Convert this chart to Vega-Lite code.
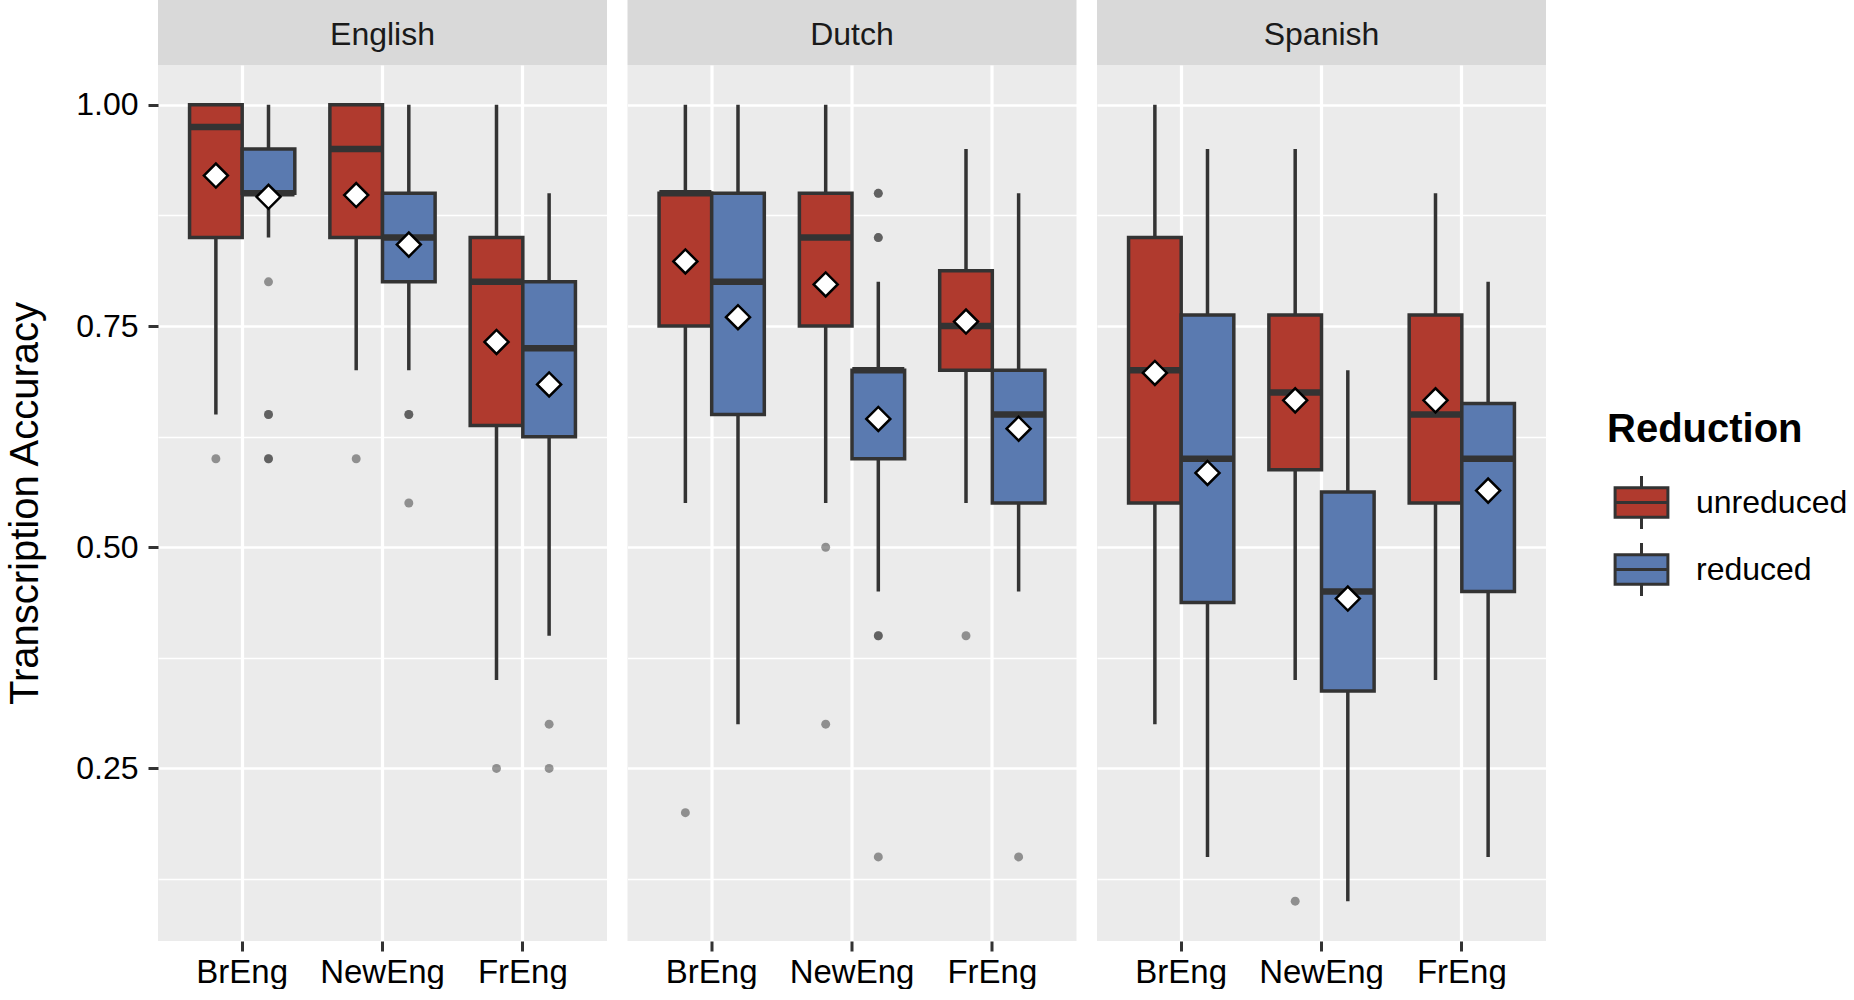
{
  "$schema": "https://vega.github.io/schema/vega-lite/v6.json",
  "padding": {"left": 5, "top": 0, "right": 0, "bottom": 0},
  "config": {
    "font": "Liberation Sans",
    "view": {"stroke": null},
    "axis": {"labelFont": "Liberation Sans", "titleFont": "Liberation Sans", "domain": false, "gridColor": "white", "tickColor": "#333333"}
  },
  "datasets": {
    "boxes": [
      {"lang": "English", "dialect": "BrEng", "red": "unreduced", "lower": 0.65, "q1": 0.85, "median": 0.975, "q3": 1.0, "upper": 1.0, "mean": 0.92},
      {"lang": "English", "dialect": "BrEng", "red": "reduced", "lower": 0.85, "q1": 0.9, "median": 0.9, "q3": 0.95, "upper": 1.0, "mean": 0.896},
      {"lang": "English", "dialect": "NewEng", "red": "unreduced", "lower": 0.7, "q1": 0.85, "median": 0.95, "q3": 1.0, "upper": 1.0, "mean": 0.898},
      {"lang": "English", "dialect": "NewEng", "red": "reduced", "lower": 0.7, "q1": 0.8, "median": 0.85, "q3": 0.9, "upper": 1.0, "mean": 0.842},
      {"lang": "English", "dialect": "FrEng", "red": "unreduced", "lower": 0.35, "q1": 0.6375, "median": 0.8, "q3": 0.85, "upper": 1.0, "mean": 0.732},
      {"lang": "English", "dialect": "FrEng", "red": "reduced", "lower": 0.4, "q1": 0.625, "median": 0.725, "q3": 0.8, "upper": 0.9, "mean": 0.684},
      {"lang": "Dutch", "dialect": "BrEng", "red": "unreduced", "lower": 0.55, "q1": 0.75, "median": 0.9, "q3": 0.9, "upper": 1.0, "mean": 0.823},
      {"lang": "Dutch", "dialect": "BrEng", "red": "reduced", "lower": 0.3, "q1": 0.65, "median": 0.8, "q3": 0.9, "upper": 1.0, "mean": 0.76},
      {"lang": "Dutch", "dialect": "NewEng", "red": "unreduced", "lower": 0.55, "q1": 0.75, "median": 0.85, "q3": 0.9, "upper": 1.0, "mean": 0.797},
      {"lang": "Dutch", "dialect": "NewEng", "red": "reduced", "lower": 0.45, "q1": 0.6, "median": 0.7, "q3": 0.7, "upper": 0.8, "mean": 0.645},
      {"lang": "Dutch", "dialect": "FrEng", "red": "unreduced", "lower": 0.55, "q1": 0.7, "median": 0.75, "q3": 0.8125, "upper": 0.95, "mean": 0.755},
      {"lang": "Dutch", "dialect": "FrEng", "red": "reduced", "lower": 0.45, "q1": 0.55, "median": 0.65, "q3": 0.7, "upper": 0.9, "mean": 0.634},
      {"lang": "Spanish", "dialect": "BrEng", "red": "unreduced", "lower": 0.3, "q1": 0.55, "median": 0.7, "q3": 0.85, "upper": 1.0, "mean": 0.697},
      {"lang": "Spanish", "dialect": "BrEng", "red": "reduced", "lower": 0.15, "q1": 0.4375, "median": 0.6, "q3": 0.7625, "upper": 0.95, "mean": 0.584},
      {"lang": "Spanish", "dialect": "NewEng", "red": "unreduced", "lower": 0.35, "q1": 0.5875, "median": 0.675, "q3": 0.7625, "upper": 0.95, "mean": 0.666},
      {"lang": "Spanish", "dialect": "NewEng", "red": "reduced", "lower": 0.1, "q1": 0.3375, "median": 0.45, "q3": 0.5625, "upper": 0.7, "mean": 0.442},
      {"lang": "Spanish", "dialect": "FrEng", "red": "unreduced", "lower": 0.35, "q1": 0.55, "median": 0.65, "q3": 0.7625, "upper": 0.9, "mean": 0.666},
      {"lang": "Spanish", "dialect": "FrEng", "red": "reduced", "lower": 0.15, "q1": 0.45, "median": 0.6, "q3": 0.6625, "upper": 0.8, "mean": 0.564}
    ],
    "outliers": [
      {"lang": "English", "dialect": "BrEng", "red": "unreduced", "value": 0.6},
      {"lang": "English", "dialect": "BrEng", "red": "reduced", "value": 0.8},
      {"lang": "English", "dialect": "BrEng", "red": "reduced", "value": 0.65},
      {"lang": "English", "dialect": "BrEng", "red": "reduced", "value": 0.65},
      {"lang": "English", "dialect": "BrEng", "red": "reduced", "value": 0.6},
      {"lang": "English", "dialect": "BrEng", "red": "reduced", "value": 0.6},
      {"lang": "English", "dialect": "NewEng", "red": "unreduced", "value": 0.6},
      {"lang": "English", "dialect": "NewEng", "red": "reduced", "value": 0.65},
      {"lang": "English", "dialect": "NewEng", "red": "reduced", "value": 0.65},
      {"lang": "English", "dialect": "NewEng", "red": "reduced", "value": 0.55},
      {"lang": "English", "dialect": "FrEng", "red": "unreduced", "value": 0.25},
      {"lang": "English", "dialect": "FrEng", "red": "reduced", "value": 0.3},
      {"lang": "English", "dialect": "FrEng", "red": "reduced", "value": 0.25},
      {"lang": "Dutch", "dialect": "BrEng", "red": "unreduced", "value": 0.2},
      {"lang": "Dutch", "dialect": "NewEng", "red": "unreduced", "value": 0.5},
      {"lang": "Dutch", "dialect": "NewEng", "red": "unreduced", "value": 0.3},
      {"lang": "Dutch", "dialect": "NewEng", "red": "reduced", "value": 0.9},
      {"lang": "Dutch", "dialect": "NewEng", "red": "reduced", "value": 0.9},
      {"lang": "Dutch", "dialect": "NewEng", "red": "reduced", "value": 0.85},
      {"lang": "Dutch", "dialect": "NewEng", "red": "reduced", "value": 0.85},
      {"lang": "Dutch", "dialect": "NewEng", "red": "reduced", "value": 0.4},
      {"lang": "Dutch", "dialect": "NewEng", "red": "reduced", "value": 0.4},
      {"lang": "Dutch", "dialect": "NewEng", "red": "reduced", "value": 0.15},
      {"lang": "Dutch", "dialect": "FrEng", "red": "unreduced", "value": 0.4},
      {"lang": "Dutch", "dialect": "FrEng", "red": "reduced", "value": 0.15},
      {"lang": "Spanish", "dialect": "NewEng", "red": "unreduced", "value": 0.1}
    ]
  },
  "resolve": {"scale": {"xOffset": "independent"}},
  "spacing": 20.5,
  "hconcat": [
    {
      "spacing": 0,
      "resolve": {"scale": {"xOffset": "independent"}},
      "vconcat": [
        {
          "width": 449, "height": 65,
          "view": {"fill": "#D9D9D9", "stroke": null},
          "data": {"values": [{"lang": "English"}]},
          "mark": {"type": "text", "fontSize": 32, "color": "#1A1A1A", "dy": 2},
          "encoding": {"text": {"field": "lang", "type": "nominal"}}
        },
        {
          "width": 449, "height": 876,
          "view": {"fill": "#EBEBEB", "stroke": null},
          "encoding": {
            "x": {"field": "dialect", "type": "nominal", "scale": {"domain": ["BrEng", "NewEng", "FrEng"], "paddingInner": 0, "paddingOuter": 0.1},
              "axis": {"title": null, "labelAngle": 0, "labelFontSize": 33, "labelColor": "black", "tickColor": "#333333", "tickWidth": 3, "tickSize": 10, "labelPadding": 5, "grid": true, "gridColor": "white", "gridWidth": 3.2, "domain": false, "bandPosition": 0.5}},
            "xOffset": {"field": "red", "type": "nominal", "scale": {"domain": ["unreduced", "reduced"], "paddingInner": 0, "paddingOuter": 0.3333}}
          },
          "layer": [
            {
              "data": {"name": "boxes"},
              "transform": [{"filter": "datum.lang === 'English'"}],
              "mark": {"type": "rule", "color": "#333333", "strokeWidth": 3.5},
              "encoding": {
                "y": {"field": "lower", "type": "quantitative", "scale": {"domain": [0.055, 1.045], "nice": false, "zero": false},
                  "axis": {"title": "Transcription Accuracy", "titleFontSize": 40, "titleFontWeight": "normal", "titleColor": "black", "titlePadding": 30,
                    "values": [0.125, 0.25, 0.375, 0.5, 0.625, 0.75, 0.875, 1.0],
                    "labelExpr": "round(datum.value*8) % 2 === 0 ? format(datum.value, '.2f') : ''",
                    "labelFontSize": 32, "labelColor": "black", "labelPadding": 10, "tickSize": 10, "tickWidth": 3, "tickColor": "#333333",
                    "tickOpacity": {"condition": {"test": "round(datum.value*8) % 2 === 0", "value": 1}, "value": 0},
                    "grid": true, "gridColor": "white",
                    "gridWidth": {"condition": {"test": "round(datum.value*8) % 2 === 0", "value": 2.6}, "value": 1.3},
                    "domain": false}},
                "y2": {"field": "upper"}
              }
            },
            {
              "data": {"name": "boxes"},
              "transform": [{"filter": "datum.lang === 'English'"}],
              "mark": {"type": "bar", "stroke": "#333333", "strokeWidth": 3.5},
              "encoding": {
                "y": {"field": "q1", "type": "quantitative", "scale": {"domain": [0.055, 1.045], "nice": false, "zero": false}},
                "y2": {"field": "q3"},
                "fill": {"field": "red", "type": "nominal", "scale": {"domain": ["unreduced", "reduced"], "range": ["#B03A2E", "#5A7AB0"]},
                  "legend": {"title": "Reduction", "orient": "none", "legendX": 1449, "legendY": 410, "titleFontSize": 40, "titleFontWeight": "bold", "titleColor": "black", "titleFont": "Liberation Sans", "titlePadding": 18, "titleLimit": 600,
                    "labelFontSize": 32, "labelColor": "black", "labelFont": "Liberation Sans", "labelOffset": 20, "labelLimit": 400,
                    "symbolType": "M-0.8,-0.45L0.8,-0.45L0.8,0.45L-0.8,0.45Z M-0.8,0L0.8,0 M0,-0.45L0,-0.8 M0,0.45L0,0.8",
                    "symbolSize": 4356, "symbolStrokeColor": "#333333", "symbolStrokeWidth": 3, "symbolOpacity": 1, "rowPadding": 0}}
              }
            },
            {
              "data": {"name": "boxes"},
              "transform": [{"filter": "datum.lang === 'English'"}],
              "mark": {"type": "tick", "color": "#333333", "thickness": 6.5, "size": 52, "opacity": 1},
              "encoding": {"y": {"field": "median", "type": "quantitative", "scale": {"domain": [0.055, 1.045], "nice": false, "zero": false}}}
            },
            {
              "data": {"name": "outliers"},
              "transform": [{"filter": "datum.lang === 'English'"}],
              "mark": {"type": "point", "shape": "circle", "filled": true, "color": "#333333", "opacity": 0.5, "size": 80},
              "encoding": {"y": {"field": "value", "type": "quantitative", "scale": {"domain": [0.055, 1.045], "nice": false, "zero": false}}}
            },
            {
              "data": {"name": "boxes"},
              "transform": [{"filter": "datum.lang === 'English'"}],
              "mark": {"type": "point", "shape": "M-1,0L0,-1L1,0L0,1Z", "filled": true, "fill": "white", "stroke": "black", "strokeWidth": 2.5, "opacity": 1, "size": 576},
              "encoding": {"y": {"field": "mean", "type": "quantitative", "scale": {"domain": [0.055, 1.045], "nice": false, "zero": false}}}
            }
          ]
        }
      ]
    },
    {
      "spacing": 0,
      "resolve": {"scale": {"xOffset": "independent"}},
      "vconcat": [
        {
          "width": 449, "height": 65,
          "view": {"fill": "#D9D9D9", "stroke": null},
          "data": {"values": [{"lang": "Dutch"}]},
          "mark": {"type": "text", "fontSize": 32, "color": "#1A1A1A", "dy": 2},
          "encoding": {"text": {"field": "lang", "type": "nominal"}}
        },
        {
          "width": 449, "height": 876,
          "view": {"fill": "#EBEBEB", "stroke": null},
          "encoding": {
            "x": {"field": "dialect", "type": "nominal", "scale": {"domain": ["BrEng", "NewEng", "FrEng"], "paddingInner": 0, "paddingOuter": 0.1},
              "axis": {"title": null, "labelAngle": 0, "labelFontSize": 33, "labelColor": "black", "tickColor": "#333333", "tickWidth": 3, "tickSize": 10, "labelPadding": 5, "grid": true, "gridColor": "white", "gridWidth": 3.2, "domain": false, "bandPosition": 0.5}},
            "xOffset": {"field": "red", "type": "nominal", "scale": {"domain": ["unreduced", "reduced"], "paddingInner": 0, "paddingOuter": 0.3333}}
          },
          "layer": [
            {
              "data": {"name": "boxes"},
              "transform": [{"filter": "datum.lang === 'Dutch'"}],
              "mark": {"type": "rule", "color": "#333333", "strokeWidth": 3.5},
              "encoding": {
                "y": {"field": "lower", "type": "quantitative", "scale": {"domain": [0.055, 1.045], "nice": false, "zero": false},
                  "axis": {"title": null, "labels": false, "ticks": false, "domain": false,
                    "values": [0.125, 0.25, 0.375, 0.5, 0.625, 0.75, 0.875, 1.0],
                    "grid": true, "gridColor": "white",
                    "gridWidth": {"condition": {"test": "round(datum.value*8) % 2 === 0", "value": 2.6}, "value": 1.3}}},
                "y2": {"field": "upper"}
              }
            },
            {
              "data": {"name": "boxes"},
              "transform": [{"filter": "datum.lang === 'Dutch'"}],
              "mark": {"type": "bar", "stroke": "#333333", "strokeWidth": 3.5},
              "encoding": {
                "y": {"field": "q1", "type": "quantitative", "scale": {"domain": [0.055, 1.045], "nice": false, "zero": false}},
                "y2": {"field": "q3"},
                "fill": {"field": "red", "type": "nominal", "scale": {"domain": ["unreduced", "reduced"], "range": ["#B03A2E", "#5A7AB0"]}}
              }
            },
            {
              "data": {"name": "boxes"},
              "transform": [{"filter": "datum.lang === 'Dutch'"}],
              "mark": {"type": "tick", "color": "#333333", "thickness": 6.5, "size": 52, "opacity": 1},
              "encoding": {"y": {"field": "median", "type": "quantitative", "scale": {"domain": [0.055, 1.045], "nice": false, "zero": false}}}
            },
            {
              "data": {"name": "outliers"},
              "transform": [{"filter": "datum.lang === 'Dutch'"}],
              "mark": {"type": "point", "shape": "circle", "filled": true, "color": "#333333", "opacity": 0.5, "size": 80},
              "encoding": {"y": {"field": "value", "type": "quantitative", "scale": {"domain": [0.055, 1.045], "nice": false, "zero": false}}}
            },
            {
              "data": {"name": "boxes"},
              "transform": [{"filter": "datum.lang === 'Dutch'"}],
              "mark": {"type": "point", "shape": "M-1,0L0,-1L1,0L0,1Z", "filled": true, "fill": "white", "stroke": "black", "strokeWidth": 2.5, "opacity": 1, "size": 576},
              "encoding": {"y": {"field": "mean", "type": "quantitative", "scale": {"domain": [0.055, 1.045], "nice": false, "zero": false}}}
            }
          ]
        }
      ]
    },
    {
      "spacing": 0,
      "resolve": {"scale": {"xOffset": "independent"}},
      "vconcat": [
        {
          "width": 449, "height": 65,
          "view": {"fill": "#D9D9D9", "stroke": null},
          "data": {"values": [{"lang": "Spanish"}]},
          "mark": {"type": "text", "fontSize": 32, "color": "#1A1A1A", "dy": 2},
          "encoding": {"text": {"field": "lang", "type": "nominal"}}
        },
        {
          "width": 449, "height": 876,
          "view": {"fill": "#EBEBEB", "stroke": null},
          "encoding": {
            "x": {"field": "dialect", "type": "nominal", "scale": {"domain": ["BrEng", "NewEng", "FrEng"], "paddingInner": 0, "paddingOuter": 0.1},
              "axis": {"title": null, "labelAngle": 0, "labelFontSize": 33, "labelColor": "black", "tickColor": "#333333", "tickWidth": 3, "tickSize": 10, "labelPadding": 5, "grid": true, "gridColor": "white", "gridWidth": 3.2, "domain": false, "bandPosition": 0.5}},
            "xOffset": {"field": "red", "type": "nominal", "scale": {"domain": ["unreduced", "reduced"], "paddingInner": 0, "paddingOuter": 0.3333}}
          },
          "layer": [
            {
              "data": {"name": "boxes"},
              "transform": [{"filter": "datum.lang === 'Spanish'"}],
              "mark": {"type": "rule", "color": "#333333", "strokeWidth": 3.5},
              "encoding": {
                "y": {"field": "lower", "type": "quantitative", "scale": {"domain": [0.055, 1.045], "nice": false, "zero": false},
                  "axis": {"title": null, "labels": false, "ticks": false, "domain": false,
                    "values": [0.125, 0.25, 0.375, 0.5, 0.625, 0.75, 0.875, 1.0],
                    "grid": true, "gridColor": "white",
                    "gridWidth": {"condition": {"test": "round(datum.value*8) % 2 === 0", "value": 2.6}, "value": 1.3}}},
                "y2": {"field": "upper"}
              }
            },
            {
              "data": {"name": "boxes"},
              "transform": [{"filter": "datum.lang === 'Spanish'"}],
              "mark": {"type": "bar", "stroke": "#333333", "strokeWidth": 3.5},
              "encoding": {
                "y": {"field": "q1", "type": "quantitative", "scale": {"domain": [0.055, 1.045], "nice": false, "zero": false}},
                "y2": {"field": "q3"},
                "fill": {"field": "red", "type": "nominal", "scale": {"domain": ["unreduced", "reduced"], "range": ["#B03A2E", "#5A7AB0"]}}
              }
            },
            {
              "data": {"name": "boxes"},
              "transform": [{"filter": "datum.lang === 'Spanish'"}],
              "mark": {"type": "tick", "color": "#333333", "thickness": 6.5, "size": 52, "opacity": 1},
              "encoding": {"y": {"field": "median", "type": "quantitative", "scale": {"domain": [0.055, 1.045], "nice": false, "zero": false}}}
            },
            {
              "data": {"name": "outliers"},
              "transform": [{"filter": "datum.lang === 'Spanish'"}],
              "mark": {"type": "point", "shape": "circle", "filled": true, "color": "#333333", "opacity": 0.5, "size": 80},
              "encoding": {"y": {"field": "value", "type": "quantitative", "scale": {"domain": [0.055, 1.045], "nice": false, "zero": false}}}
            },
            {
              "data": {"name": "boxes"},
              "transform": [{"filter": "datum.lang === 'Spanish'"}],
              "mark": {"type": "point", "shape": "M-1,0L0,-1L1,0L0,1Z", "filled": true, "fill": "white", "stroke": "black", "strokeWidth": 2.5, "opacity": 1, "size": 576},
              "encoding": {"y": {"field": "mean", "type": "quantitative", "scale": {"domain": [0.055, 1.045], "nice": false, "zero": false}}}
            }
          ]
        }
      ]
    }
  ]
}
